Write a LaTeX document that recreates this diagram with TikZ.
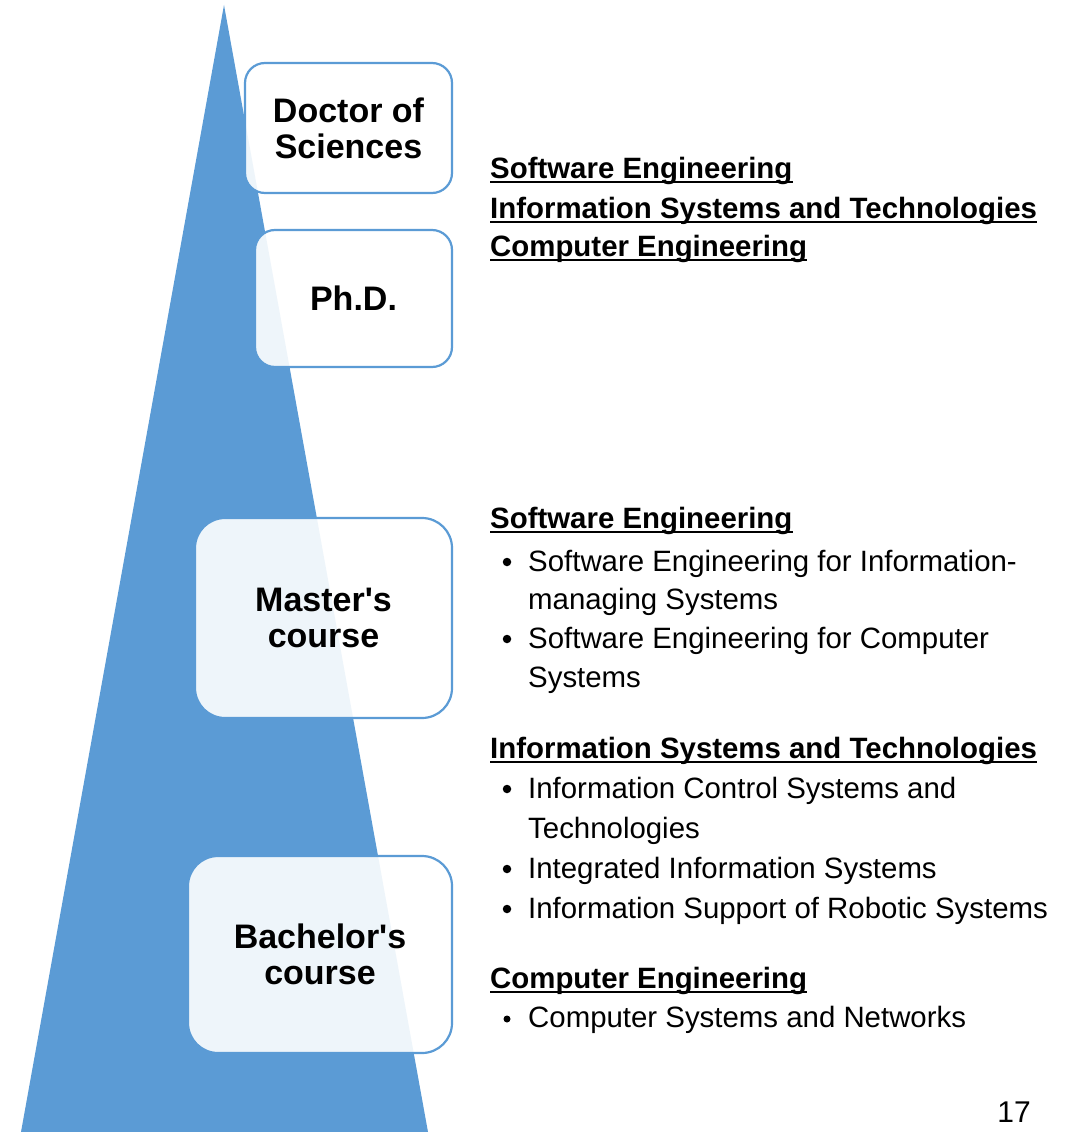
\documentclass[tikz,border=0pt]{standalone}
\usepackage{fontspec}
\setmainfont{Liberation Sans}
\newfontfamily\boxfont{Liberation Sans}[Ligatures=ResetAll]
\definecolor{triblue}{HTML}{5B9BD5}
\begin{document}
\begin{tikzpicture}[x=1pt,y=-1pt,
  lvl/.style={draw=triblue, line width=2.2pt, fill=white, fill opacity=0.9, text opacity=1,
    align=center, inner sep=0pt, font=\boxfont\bfseries\fontsize{34}{36}\selectfont},
  head/.style={anchor=base west, inner sep=0pt, font=\bfseries\fontsize{29.4}{35}\selectfont},
  item/.style={anchor=base west, inner sep=0pt, font=\fontsize{29.4}{35}\selectfont},
  uline/.style={line width=2.4pt},
  bul/.style={circle, fill=black, inner sep=0pt, minimum size=8.5pt}]
\useasboundingbox (0,0) rectangle (1066,1132);
\fill[triblue] (224,5) -- (21,1132) -- (428,1132) -- cycle;
% level boxes
\node[lvl, minimum width=207pt, minimum height=130pt, rounded corners=20pt] (doc) at (348.5,128) {Doctor of\\Sciences};
\node[lvl, minimum width=197pt, minimum height=137pt, rounded corners=20pt] (phd) at (353.5,298.5) {Ph.D.};
\node[lvl, minimum width=257pt, minimum height=200pt, rounded corners=30pt] (mas) at (323.5,618) {Master's\\course};
\node[lvl, minimum width=264pt, minimum height=197pt, rounded corners=30pt] (bac) at (320,954.5) {Bachelor's\\course};
% top list
\node[head] (t1) at (490,178) {Software Engineering};
\node[head] (t2) at (490,218) {Information Systems and Technologies};
\node[head] (t3) at (490,256) {Computer Engineering};
\foreach \n in {t1,t2,t3} \draw[uline] ([yshift=-4pt]\n.base west) -- ([yshift=-4pt]\n.base east);
% master/bachelor lists
\node[head] (h1) at (490,528) {Software Engineering};
\node[bul] (b1) at (507,562) {};
\node[item] (i1) at (528,571) {Software Engineering for Information-};
\node[item] (i1b) at (528,609) {managing Systems};
\node[bul] (b2) at (507,639) {};
\node[item] (i2) at (528,648) {Software Engineering for Computer};
\node[item] (i2b) at (528,687) {Systems};
\node[head] (h2) at (490,758) {Information Systems and Technologies};
\node[bul] (b3) at (507,789) {};
\node[item] (i3) at (528,798) {Information Control Systems and};
\node[item] (i3b) at (528,838) {Technologies};
\node[bul] (b4) at (507,869) {};
\node[item] (i4) at (528,878) {Integrated Information Systems};
\node[bul] (b5) at (507,909) {};
\node[item] (i5) at (528,918) {Information Support of Robotic Systems};
\node[head] (h3) at (490,988) {Computer Engineering};
\node[bul, minimum size=7pt] (b6) at (507,1019) {};
\node[item] (i6) at (528,1027) {Computer Systems and Networks};
\foreach \n in {h1,h2,h3} \draw[uline] ([yshift=-4pt]\n.base west) -- ([yshift=-4pt]\n.base east);
\node[anchor=base east, inner sep=0pt, font=\fontsize{30}{36}\selectfont] (pg) at (1031,1122) {17};
\end{tikzpicture}
\end{document}
